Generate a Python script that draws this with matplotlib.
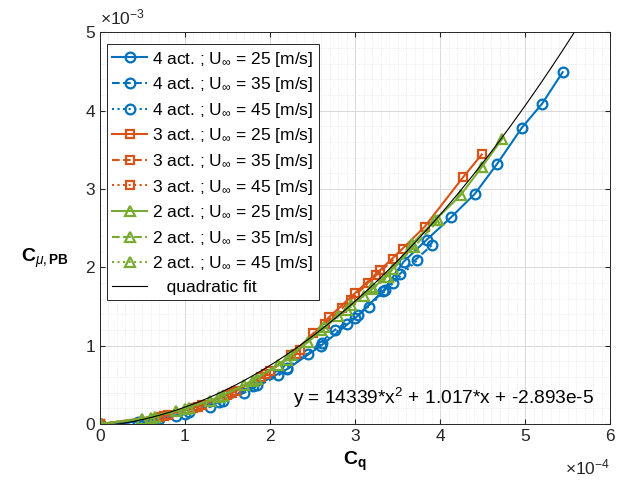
import matplotlib
matplotlib.use('Agg')
import matplotlib.pyplot as plt
import numpy as np
from matplotlib.ticker import MultipleLocator, FuncFormatter

plt.rcParams['font.family'] = ['Liberation Sans', 'DejaVu Sans']
plt.rcParams['mathtext.fontset'] = 'custom'
plt.rcParams['mathtext.rm'] = 'Liberation Sans'
plt.rcParams['mathtext.it'] = 'Liberation Sans:italic'
plt.rcParams['mathtext.bf'] = 'Liberation Sans:bold'
plt.rcParams['font.size'] = 12

# Cq in 1e-4, Cmu in 1e-3
b25_x = [0, 0.45, 0.7, 1.05, 1.45, 1.85, 2.2, 2.6, 3.0, 3.33, 3.57, 3.84, 4.13, 4.41, 4.67, 4.96, 5.20, 5.44]
b25_y = [0, 0.03, 0.07, 0.15, 0.30, 0.50, 0.70, 1.00, 1.35, 1.70, 2.07, 2.35, 2.64, 2.94, 3.32, 3.78, 4.09, 4.49]
b35_x = [0, 0.55, 0.9, 1.3, 1.7, 2.1, 2.45, 2.76, 3.04, 3.35, 3.53, 3.90]
b35_y = [0, 0.03, 0.10, 0.22, 0.40, 0.62, 0.90, 1.20, 1.39, 1.71, 1.92, 2.28]
b45_x = [0, 0.6, 1.0, 1.4, 1.8, 2.2, 2.61, 2.90, 3.16, 3.45, 3.73]
b45_y = [0, 0.04, 0.13, 0.28, 0.48, 0.72, 1.03, 1.28, 1.50, 1.80, 2.09]

o25_x = [0, 0.8, 1.2, 1.6, 2.0, 2.3, 2.69, 3.0, 3.29, 3.56, 3.82, 4.27, 4.49]
o25_y = [0, 0.12, 0.24, 0.42, 0.68, 0.90, 1.36, 1.67, 1.96, 2.24, 2.52, 3.15, 3.44]
o35_x = [0, 0.7, 1.1, 1.5, 1.9, 2.25, 2.51, 2.85, 3.15, 3.45]
o35_y = [0, 0.09, 0.20, 0.37, 0.60, 0.88, 1.16, 1.48, 1.80, 2.10]
o45_x = [0, 0.75, 1.15, 1.55, 1.95, 2.35, 2.65, 2.95, 3.25]
o45_y = [0, 0.10, 0.22, 0.40, 0.64, 0.95, 1.28, 1.58, 1.90]

g25_x = [0, 0.5, 0.9, 1.3, 1.7, 2.1, 2.45, 2.8, 3.1, 3.37, 3.67, 3.94, 4.24, 4.49, 4.73]
g25_y = [0, 0.07, 0.17, 0.30, 0.50, 0.76, 1.05, 1.38, 1.64, 1.88, 2.30, 2.60, 2.92, 3.28, 3.64]
g35_x = [0, 0.6, 1.0, 1.4, 1.8, 2.2, 2.63, 2.95, 3.2, 3.45, 3.69, 3.98]
g35_y = [0, 0.08, 0.19, 0.34, 0.55, 0.82, 1.24, 1.52, 1.75, 1.98, 2.26, 2.60]
g45_x = [0, 0.65, 1.05, 1.45, 1.85, 2.25, 2.6, 2.9, 3.2, 3.39]
g45_y = [0, 0.09, 0.21, 0.36, 0.58, 0.88, 1.20, 1.45, 1.72, 1.88]

fit_coef = [14339, 1.017, -2.893e-5]

blue, orange, green = '#0072BD', '#D95319', '#77AC30'
series = [
    (b25_x, b25_y, blue, 'o', '-', 4, 25), (b35_x, b35_y, blue, 'o', '--', 4, 35), (b45_x, b45_y, blue, 'o', ':', 4, 45),
    (o25_x, o25_y, orange, 's', '-', 3, 25), (o35_x, o35_y, orange, 's', '--', 3, 35), (o45_x, o45_y, orange, 's', ':', 3, 45),
    (g25_x, g25_y, green, '^', '-', 2, 25), (g35_x, g35_y, green, '^', '--', 2, 35), (g45_x, g45_y, green, '^', ':', 2, 45),
]

fig = plt.figure(figsize=(6.24, 4.88), dpi=100)
ax = fig.add_axes([0.160, 0.131, 0.818, 0.803])

for xs, ys, c, m, ls, n, u in series:
    ms = 7 if m != 's' else 5.5
    ax.plot(np.array(xs) * 1e-4, np.array(ys) * 1e-3, ls=ls, marker=m, color=c, mfc='none',
            mew=1.6, ms=ms, lw=1.5, label=rf'{n} act. ; U$_{{\infty}}$ = {u} [m/s]')

xf = np.linspace(0, 6e-4, 200)
ax.plot(xf, np.polyval(fit_coef, xf), color='black', lw=0.8, label='   quadratic fit')

ax.set_xlim(0, 6e-4)
ax.set_ylim(0, 5e-3)
ax.xaxis.set_major_locator(MultipleLocator(1e-4))
ax.xaxis.set_minor_locator(MultipleLocator(0.1e-4))
ax.yaxis.set_major_locator(MultipleLocator(1e-3))
ax.yaxis.set_minor_locator(MultipleLocator(0.2e-3))
ax.xaxis.set_major_formatter(FuncFormatter(lambda v, p: f'{v * 1e4:g}'))
ax.yaxis.set_major_formatter(FuncFormatter(lambda v, p: f'{v * 1e3:g}'))
ax.grid(which='major', color='#d8d8d8', lw=0.7)
ax.grid(which='minor', color='#e4e4e4', lw=0.6, ls=':')
ax.set_axisbelow(True)
ax.tick_params(which='both', direction='in', top=True, right=True, colors='#262626', labelsize=12.5)
ax.tick_params(which='minor', length=0)
for s in ax.spines.values():
    s.set_color('#262626')
    s.set_linewidth(0.7)

ax.text(0, 1.012, r'$\times$10$^{-3}$', transform=ax.transAxes, fontsize=12.5, color='#262626', va='bottom', ha='left')
ax.text(1.0, -0.085, r'$\times$10$^{-4}$', transform=ax.transAxes, fontsize=12.5, color='#262626', va='top', ha='right')

ax.set_xlabel(r'$\mathbf{C}_\mathbf{q}$', fontsize=14, labelpad=4)
ax.set_ylabel(r'$\mathbf{C}_{\mu,\mathbf{PB}}$', fontsize=14, rotation=0, ha='center', va='center')
ax.yaxis.set_label_coords(-0.108, 0.423)

ax.text(0.378, 0.066, r'y = 14339*x$^2$ + 1.017*x + -2.893e-5', transform=ax.transAxes, fontsize=13.8, va='center')

leg = ax.legend(loc='upper left', bbox_to_anchor=(0.014, 0.969), borderaxespad=0, fontsize=12.5,
                handlelength=2.0, handletextpad=0.3, labelspacing=0.38, fancybox=False, framealpha=1,
                edgecolor='#262626', borderpad=0.3)
leg.get_frame().set_linewidth(0.7)

fig.savefig('out.png', dpi=100)
